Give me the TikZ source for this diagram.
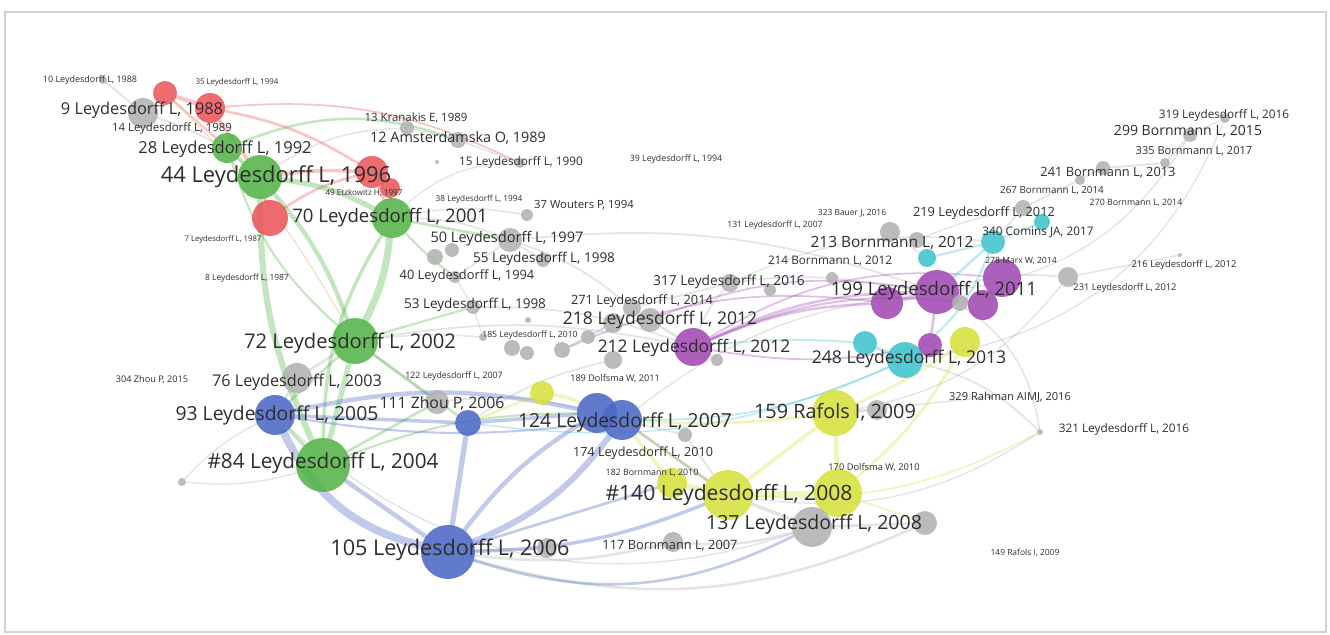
\documentclass[tikz,border=0pt]{standalone}
\usepackage{fontspec}
\setmainfont{Open Sans}
\usetikzlibrary{backgrounds}

\definecolor{vred}{RGB}{236,86,92}
\definecolor{vgreen}{RGB}{84,180,72}
\definecolor{vblue}{RGB}{76,104,196}
\definecolor{vyellow}{RGB}{214,224,60}
\definecolor{vpurple}{RGB}{160,74,178}
\definecolor{vcyan}{RGB}{64,196,206}
\definecolor{vgray}{RGB}{178,178,178}
\definecolor{labgray}{RGB}{45,45,45}
\definecolor{vorange}{RGB}{205,150,90}

\begin{document}
\begin{tikzpicture}[x=0.02cm,y=-0.02cm,
  bub/.style={circle,inner sep=0pt,draw=none,minimum size=#1*0.04cm,fill opacity=.88},
  lab/.style={font=\fontsize{#1}{#1}\selectfont,text=labgray,inner sep=0pt},
  edge/.style={draw=#1,draw opacity=.35,line cap=round}]

\useasboundingbox (0,0) rectangle (1330,635);

%red cluster
\node[bub=12,fill=vred] (r165) at (165,93) {};
\node[bub=15,fill=vred] (r210) at (210,108) {};
\node[bub=16,fill=vred] (r372) at (372,172) {};
\node[bub=10,fill=vred] (r390) at (390,188) {};
\node[bub=18,fill=vred] (r270) at (270,218) {};

%green cluster
\node[bub=15,fill=vgreen] (n28) at (227,148) {};
\node[bub=22,fill=vgreen] (n44) at (260,177) {};
\node[bub=20,fill=vgreen] (n70) at (392,218) {};
\node[bub=23,fill=vgreen] (n72) at (355,341) {};
\node[bub=27,fill=vgreen] (n84) at (323,465) {};

%blue cluster
\node[bub=20,fill=vblue] (n93) at (275,415) {};
\node[bub=13,fill=vblue] (n111) at (468,423) {};
\node[bub=20,fill=vblue] (n124a) at (597,413) {};
\node[bub=20,fill=vblue] (n124) at (622,420) {};
\node[bub=27,fill=vblue] (n105) at (448,552) {};

%yellow cluster
\node[bub=12,fill=vyellow] (y540) at (542,393) {};
\node[bub=15,fill=vyellow] (y665) at (672,483) {};
\node[bub=25,fill=vyellow] (n140) at (728,495) {};
\node[bub=24,fill=vyellow] (y840) at (838,493) {};
\node[bub=23,fill=vyellow] (n159) at (835,413) {};
\node[bub=15,fill=vyellow] (y965) at (965,342) {};

%purple cluster
\node[bub=19,fill=vpurple] (n212) at (693,347) {};
\node[bub=16,fill=vpurple] (p887) at (887,303) {};
\node[bub=19,fill=vpurple] (p1002) at (1002,278) {};
\node[bub=22,fill=vpurple] (n199) at (937,292) {};
\node[bub=15,fill=vpurple] (p983) at (983,305) {};
\node[bub=12,fill=vpurple] (p930) at (930,345) {};

%cyan cluster
\node[bub=12,fill=vcyan] (c865) at (865,343) {};
\node[bub=18,fill=vcyan] (n248) at (905,360) {};
\node[bub=9,fill=vcyan] (c928) at (927,258) {};
\node[bub=12,fill=vcyan] (c993) at (993,242) {};
\node[bub=8,fill=vcyan] (c1042) at (1042,222) {};

%gray
\foreach \n/\p/\r in {g10/{103,80}/4, g9/{143,113}/15, g13/{407,128}/7, g12/{458,140}/8,
  g15/{520,163}/5, g15b/{437,162}/2, g37/{527,215}/6, g50/{510,240}/12, g50b/{435,257}/8,
  g50c/{452,250}/7, g55/{543,260}/7, g40/{455,277}/6, g53/{473,307}/7, g53b/{528,320}/3,
  g185/{483,337}/4, g185b/{512,348}/8, g185c/{527,353}/7, g185d/{562,350}/8, g271/{588,337}/7,
  g218/{613,323}/10, g218b/{632,308}/9, g218c/{650,320}/12, g218d/{613,360}/9, g317/{730,283}/9,
  g317b/{770,290}/6, g214/{832,278}/6, g212/{717,360}/6, g76/{297,378}/15, g111/{437,402}/12,
  g84/{182,482}/4, g174/{685,435}/7, g159/{877,410}/10, g137/{812,527}/20, g137b/{925,523}/12,
  g117/{673,542}/10, g105/{547,548}/10, g213/{890,232}/10, g213b/{917,240}/8, g199/{960,303}/8,
  g231/{1068,277}/10, g219/{1023,208}/8, g241/{1103,168}/7, g241b/{1080,180}/5, g335/{1165,163}/5,
  g299/{1190,135}/7, g319/{1225,118}/5, g321/{1040,432}/3, g329/{990,397}/2, g216/{1180,255}/2}
  \node[bub=\r,fill=vgray] (\n) at (\p) {};

\begin{scope}[on background layer]
\draw[gray!35,line width=.6pt] (5,12) rectangle (1326,632);

%gray links
\foreach \a/\b/\w/\bd in {g9/g10/1/0, g9/n44/1/10, n44/g13/.8/15, g12/g15/.8/0, n70/g50/1/10,
  n70/g37/.8/10, g50/g55/1/0, g50/g40/1/0, g53/g185/.8/0, g185d/g218/1/0, g218c/n212/1.5/0,
  n212/g317/1/10, g317/g214/1/5, g214/n199/1/0, g213/c928/1/0, c993/g219/1/0, g219/g241/1/0,
  g241/g335/1/0, g335/g299/1/0, g299/g319/.8/0, n199/g231/1/10, g231/g216/.8/0,
  n199/g321/1/25, n248/g321/1/15, n159/g329/.8/0, n140/g137/2/0, g137/g137b/1.5/0,
  n105/g117/1.5/-10, g117/g137/1.5/-10, n105/g105/1.5/0, n84/g84/.8/10, n93/g84/.8/-10,
  g76/n72/1.5/0, g76/n93/1.5/0, g111/n72/1.5/0, g111/n124a/1/10, n124/g174/1/0, g174/n140/1/0,
  n212/g212/1/0, n159/g159/1.5/0, n105/g137b/1.5/-20, n72/n212/1/10, g50/n199/1/12,
  g50/g218b/1/10, g40/g53/.8/0, g218/g271/1/0, g185b/g185c/1/0, n72/g185/.8/5,
  g317/c993/.8/15, n199/g299/.8/-25, n248/g319/.8/-30, g53/n212/1/10, n111/g218d/1/10,
  g13/g12/.8/0, n70/g15/.8/20, g218b/g317/1/0, g213b/g219/.8/5, n159/g231/.8/-20,
  n124/n199/.8/15, n140/g321/.8/-20, n93/g137/.8/-30}
  \draw[edge=vgray,line width=\w pt] (\a) to[bend left=\bd] (\b);

%red links
\foreach \a/\b/\w/\bd in {r165/r210/2.5/0, r210/r372/1.5/10, r210/n44/2/0, r165/n28/1.2/0,
  r270/n44/2/0, r270/r372/1.5/10, r372/n70/1.5/0, r390/n70/1.5/0, r372/n44/2/-5, r210/g15/1/15}
  \draw[edge=vred,line width=\w pt] (\a) to[bend left=\bd] (\b);
\draw[edge=vorange,line width=.6pt] (r165) to[bend left=8] (n72);

%green links
\foreach \a/\b/\w/\bd in {n28/n44/2/0, n44/n70/3/10, n44/n84/3.5/-12, n70/n72/4/10,
  n44/n72/2.5/10, n72/n84/3/0, n70/n84/2/-15, n28/g12/1.5/20, n72/n93/1.5/0, n84/n93/2/0,
  n72/g53/1.2/0, n70/g50/1.5/0, n84/n124a/1.2/10, n72/n111/1.5/0, n84/g111/1.5/0,
  n28/n72/1.2/-15, n70/g40/1.2/-5}
  \draw[edge=vgreen,line width=\w pt] (\a) to[bend left=\bd] (\b);

%blue links
\foreach \a/\b/\w/\bd in {n93/n105/4.5/-25, n105/n124/3.5/-15, n105/n124a/2.5/10,
  n93/n124a/2.5/12, n111/n105/3/0, n111/n124a/2/0, n84/n105/2.5/0, n105/n140/2/-10,
  n105/y665/1.5/0, n93/n111/2/0, n124/n140/1.5/0, n105/g137/1.5/-22, n93/n124/1.2/-8}
  \draw[edge=vblue,line width=\w pt] (\a) to[bend left=\bd] (\b);

%yellow links
\foreach \a/\b/\w/\bd in {n140/y840/3/0, n140/y665/3/0, n140/n159/2/0, n159/y840/2.5/0,
  n159/y965/1.5/-5, y840/y965/1.5/-10, y665/n124/2/0, y540/n124a/2/10, y540/n111/1.5/0,
  n140/n124/1.5/0, n159/n124/1.5/5, y840/g137b/1/0, n140/g321/1/-15}
  \draw[edge=vyellow,line width=\w pt] (\a) to[bend left=\bd] (\b);

%purple and cyan links
\foreach \a/\b/\w/\bd in {n212/p887/1.5/10, n212/n199/1.5/12, n212/p983/1.2/15,
  g218c/n199/1/15, p887/n199/2/0, n199/p983/2/0, p983/p1002/1.5/0, p930/n199/1.5/0,
  p930/n248/1.5/0, n212/p930/1/-10, g185d/p887/1/15, n212/p1002/1/18}
  \draw[edge=vpurple,line width=\w pt] (\a) to[bend left=\bd] (\b);
\foreach \a/\b/\w/\bd in {c865/n248/2/0, n248/p930/1.5/0, n248/c993/1.2/-15, c928/c993/1.2/0,
  c993/c1042/1.2/0, n248/n124/1/12, c865/n212/1/-5, c993/n199/1.5/0, n248/n111/.8/15}
  \draw[edge=vcyan,line width=\w pt] (\a) to[bend left=\bd] (\b);
\end{scope}

%labels
\node[lab=5.1] (t10) at (90,80) {10 Leydesdorff L, 1988};
\node[lab=4.5] (t35) at (237,82) {35 Leydesdorff L, 1994};
\node[lab=9.3] (t9) at (142,110) {9 Leydesdorff L, 1988};
\node[lab=6.5] (t14) at (172,129) {14 Leydesdorff L, 1989};
\node[lab=9.4] (t28) at (225,149) {28 Leydesdorff L, 1992};
\node[lab=12.5] (t44) at (276,177) {44 Leydesdorff L, 1996};
\node[lab=4.6] (t49) at (364,193) {49 Etzkowitz H, 1997};
\node[lab=6.5] (t13) at (416,118) {13 Kranakis E, 1989};
\node[lab=8.2] (t12) at (458,138) {12 Amsterdamska O, 1989};
\node[lab=6.7] (t15) at (521,162) {15 Leydesdorff L, 1990};
\node[lab=10.6] (t70) at (390,218) {70 Leydesdorff L, 2001};
\node[lab=4.7] (t38) at (479,199) {38 Leydesdorff L, 1994};
\node[lab=6.4] (t37) at (584,205) {37 Wouters P, 1994};
\node[lab=4.4] (t7) at (223,239) {7 Leydesdorff L, 1987};
\node[lab=8.3] (t50) at (507,239) {50 Leydesdorff L, 1997};
\node[lab=7.7] (t55) at (544,259) {55 Leydesdorff L, 1998};
\node[lab=7.3] (t40) at (467,276) {40 Leydesdorff L, 1994};
\node[lab=4.8] (t8) at (247,278) {8 Leydesdorff L, 1987};
\node[lab=7.7] (t53) at (475,305) {53 Leydesdorff L, 1998};
\node[lab=7.3] (t271) at (642,301) {271 Leydesdorff L, 2014};
\node[lab=10] (t218) at (660,320) {218 Leydesdorff L, 2012};
\node[lab=7.8] (t317) at (729,282) {317 Leydesdorff L, 2016};
\node[lab=4.9] (t185) at (530,335) {185 Leydesdorff L, 2010};
\node[lab=11.5] (t72) at (350,343) {72 Leydesdorff L, 2002};
\node[lab=9.9] (t212) at (694,348) {212 Leydesdorff L, 2012};
\node[lab=5.2] (t304) at (152,380) {304 Zhou P, 2015};
\node[lab=9.2] (t76) at (297,382) {76 Leydesdorff L, 2003};
\node[lab=5] (t122) at (454,376) {122 Leydesdorff L, 2007};
\node[lab=5.2] (t189) at (615,379) {189 Dolfsma W, 2011};
\node[lab=11] (t93) at (277,415) {93 Leydesdorff L, 2005};
\node[lab=9] (t111) at (442,404) {111 Zhou P, 2006};
\node[lab=11] (t124) at (625,422) {124 Leydesdorff L, 2007};
\node[lab=11.3] (t159) at (835,412) {159 Rafols I, 2009};
\node[lab=10] (t248) at (909,359) {248 Leydesdorff L, 2013};
\node[lab=6.3] (t329) at (1010,397) {329 Rahman AIMJ, 2016};
\node[lab=6.7] (t321) at (1124,429) {321 Leydesdorff L, 2016};
\node[lab=11.8] (t84) at (323,463) {\#84 Leydesdorff L, 2004};
\node[lab=7.2] (t174) at (643,453) {174 Leydesdorff L, 2010};
\node[lab=5] (t182) at (652,473) {182 Bornmann L, 2010};
\node[lab=5.3] (t170) at (874,468) {170 Dolfsma W, 2010};
\node[lab=12] (t140) at (729,495) {\#140 Leydesdorff L, 2008};
\node[lab=11.1] (t137) at (814,524) {137 Leydesdorff L, 2008};
\node[lab=12.3] (t105) at (450,550) {105 Leydesdorff L, 2006};
\node[lab=7.3] (t117) at (670,546) {117 Bornmann L, 2007};
\node[lab=4.8] (t149) at (1025,553) {149 Rafols I, 2009};
\node[lab=5] (t39) at (676,159) {39 Leydesdorff L, 1994};
\node[lab=4.9] (t131) at (775,225) {131 Leydesdorff L, 2007};
\node[lab=4.8] (t323) at (852,213) {323 Bauer J, 2016};
\node[lab=7.3] (t219) at (984,213) {219 Leydesdorff L, 2012};
\node[lab=8.8] (t213) at (892,243) {213 Bornmann L, 2012};
\node[lab=6.7] (t214) at (830,261) {214 Bornmann L, 2012};
\node[lab=6.7] (t340) at (1038,232) {340 Comins JA, 2017};
\node[lab=5.6] (t267) at (1052,191) {267 Bornmann L, 2014};
\node[lab=5] (t270) at (1136,203) {270 Bornmann L, 2014};
\node[lab=7.3] (t241) at (1108,173) {241 Bornmann L, 2013};
\node[lab=6.3] (t335) at (1194,151) {335 Bornmann L, 2017};
\node[lab=8] (t299) at (1188,131) {299 Bornmann L, 2015};
\node[lab=6.7] (t319) at (1224,115) {319 Leydesdorff L, 2016};
\node[lab=5.4] (t216) at (1184,265) {216 Leydesdorff L, 2012};
\node[lab=4.9] (t278) at (1021,261) {278 Marx W, 2014};
\node[lab=5.3] (t231) at (1125,288) {231 Leydesdorff L, 2012};
\node[lab=10.6] (t199) at (934,291) {199 Leydesdorff L, 2011};

\end{tikzpicture}
\end{document}
